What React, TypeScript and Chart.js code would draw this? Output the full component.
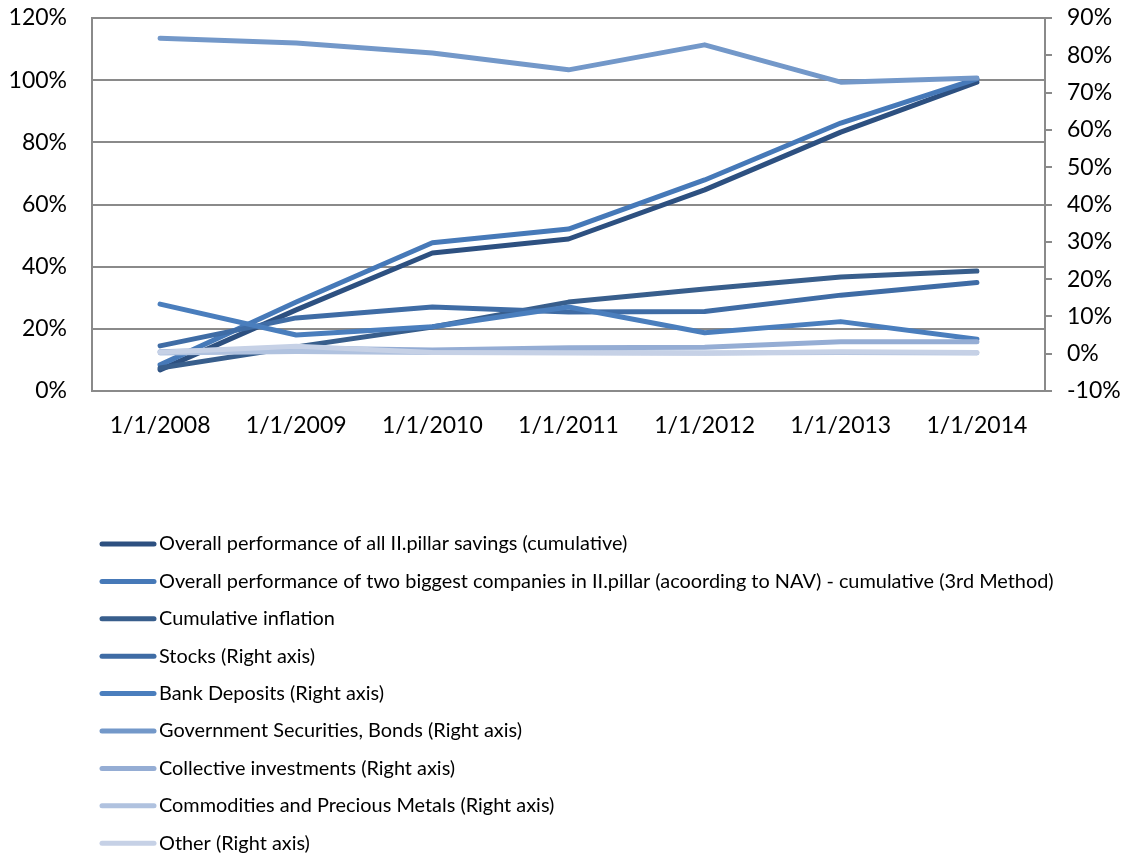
import React, { useEffect, useRef } from 'react';
import { Chart, registerables } from 'chart.js';

Chart.register(...registerables);

const categories = ['1/1/2008', '1/1/2009', '1/1/2010', '1/1/2011', '1/1/2012', '1/1/2013', '1/1/2014'];

// Left axis series (%)
const overallAll = [6.8, 26.1, 44.4, 48.9, 64.7, 83.3, 99.4];
const twoBiggest = [8.4, 28.6, 47.7, 52.1, 67.9, 86.2, 100.4];
const inflation = [7.4, 14.2, 20.6, 28.6, 32.8, 36.7, 38.6];
// Right axis series (%)
const stocks = [2.1, 9.6, 12.5, 11.2, 11.3, 15.7, 19.1];
const bankDeposits = [13.3, 5.0, 7.2, 12.5, 5.6, 8.6, 3.9];
const govSecurities = [84.6, 83.3, 80.6, 76.1, 82.8, 72.8, 73.9];
const collective = [0.5, 1.5, 1.0, 1.6, 1.7, 3.2, 3.2];
const commodities = [0.2, 0.6, 0.3, 0.3, 0.2, 0.3, 0.2];
const other = [0.4, 2.0, 0.3, 0.2, 0.1, 0.5, 0.3];

const leftTicks = [0, 20, 40, 60, 80, 100, 120];
const rightTicks = [-10, 0, 10, 20, 30, 40, 50, 60, 70, 80, 90];

const seriesNames = [
  'Overall performance of all II.pillar savings (cumulative)',
  'Overall performance of two biggest companies in II.pillar (acoording to NAV) - cumulative (3rd Method)',
  'Cumulative inflation',
  'Stocks (Right axis)',
  'Bank Deposits (Right axis)',
  'Government Securities, Bonds (Right axis)',
  'Collective investments (Right axis)',
  'Commodities and Precious Metals (Right axis)',
  'Other (Right axis)',
];
const seriesData = [overallAll, twoBiggest, inflation, stocks, bankDeposits, govSecurities, collective, commodities, other];
const seriesAxis = ['y', 'y', 'y', 'y2', 'y2', 'y2', 'y2', 'y2', 'y2'];
const seriesColors = ['#2d5080', '#4679b8', '#385e8c', '#3f6ca5', '#4a7ebd', '#7398c9', '#95add4', '#b0c2df', '#c6d1e6'];

const FONT = 'Lato';
const GRID = '#8a8a8a';

const legendPlugin = {
  id: 'customListLegend',
  afterDraw(chart: any) {
    const ctx = chart.ctx;
    ctx.save();
    chart.data.datasets.forEach((ds: any, i: number) => {
      const y = 544 + i * 37.4;
      ctx.strokeStyle = ds.borderColor;
      ctx.lineWidth = 5;
      ctx.lineCap = 'round';
      ctx.beginPath();
      ctx.moveTo(102, y);
      ctx.lineTo(154, y);
      ctx.stroke();
      ctx.fillStyle = '#000000';
      ctx.font = `19.9px ${FONT}`;
      ctx.textBaseline = 'middle';
      ctx.textAlign = 'left';
      ctx.fillText(ds.label, 159, y);
    });
    ctx.restore();
  },
};

export default function App() {
  const canvasRef = useRef<HTMLCanvasElement | null>(null);

  useEffect(() => {
    if (!canvasRef.current) return;
    const n = seriesNames.length;
    const chart = new Chart(canvasRef.current, {
      type: 'line',
      data: {
        labels: categories,
        datasets: seriesNames.map((name, i) => ({
          label: name,
          data: seriesData[i],
          yAxisID: seriesAxis[i],
          borderColor: seriesColors[i],
          backgroundColor: seriesColors[i],
          borderWidth: 5,
          borderCapStyle: 'round',
          borderJoinStyle: 'round',
          pointRadius: 0,
          tension: 0,
          fill: false,
          order: n - i,
        })),
      },
      options: {
        responsive: false,
        animation: false,
        devicePixelRatio: 1,
        layout: { padding: { top: 18, left: 0, right: 0, bottom: 0 } },
        plugins: {
          legend: { display: false },
          tooltip: { enabled: false },
          title: { display: false },
        },
        scales: {
          x: {
            type: 'category',
            offset: true,
            grid: { display: false, drawTicks: false },
            border: { display: true, color: GRID, width: 2 },
            ticks: {
              color: '#000000',
              font: { family: FONT, size: 23 },
              padding: 21,
              maxRotation: 0,
              autoSkip: false,
            },
            afterFit(scale: any) {
              scale.height = 465;
              scale.paddingLeft = 0;
              scale.paddingRight = 0;
            },
          },
          y: {
            position: 'left',
            min: 0,
            max: 120,
            afterBuildTicks(scale: any) {
              scale.ticks = leftTicks.map((v) => ({ value: v }));
            },
            grid: { color: GRID, lineWidth: 2, drawTicks: false },
            border: { display: true, color: GRID, width: 2 },
            ticks: {
              color: '#000000',
              font: { family: FONT, size: 23 },
              padding: 25,
              callback: (v: any) => `${v}%`,
            },
            afterFit(scale: any) {
              scale.width = 92;
              scale.paddingTop = 0;
              scale.paddingBottom = 0;
            },
          },
          y2: {
            position: 'right',
            min: -10,
            max: 90,
            afterBuildTicks(scale: any) {
              scale.ticks = rightTicks.map((v) => ({ value: v }));
            },
            grid: { drawOnChartArea: false, color: GRID, lineWidth: 2, drawTicks: true, tickLength: 7 },
            border: { display: true, color: GRID, width: 2 },
            ticks: {
              color: '#000000',
              font: { family: FONT, size: 23 },
              padding: 15,
              callback: (v: any) => `${v}%`,
            },
            afterFit(scale: any) {
              scale.width = 91;
              scale.paddingTop = 0;
              scale.paddingBottom = 0;
            },
          },
        },
      },
      plugins: [legendPlugin],
    } as any);
    return () => chart.destroy();
  }, []);

  return (
    <div style={{ position: 'absolute', left: 0, top: 0, width: 1136, height: 856, background: '#ffffff' }}>
      <canvas ref={canvasRef} width={1136} height={856} />
    </div>
  );
}
